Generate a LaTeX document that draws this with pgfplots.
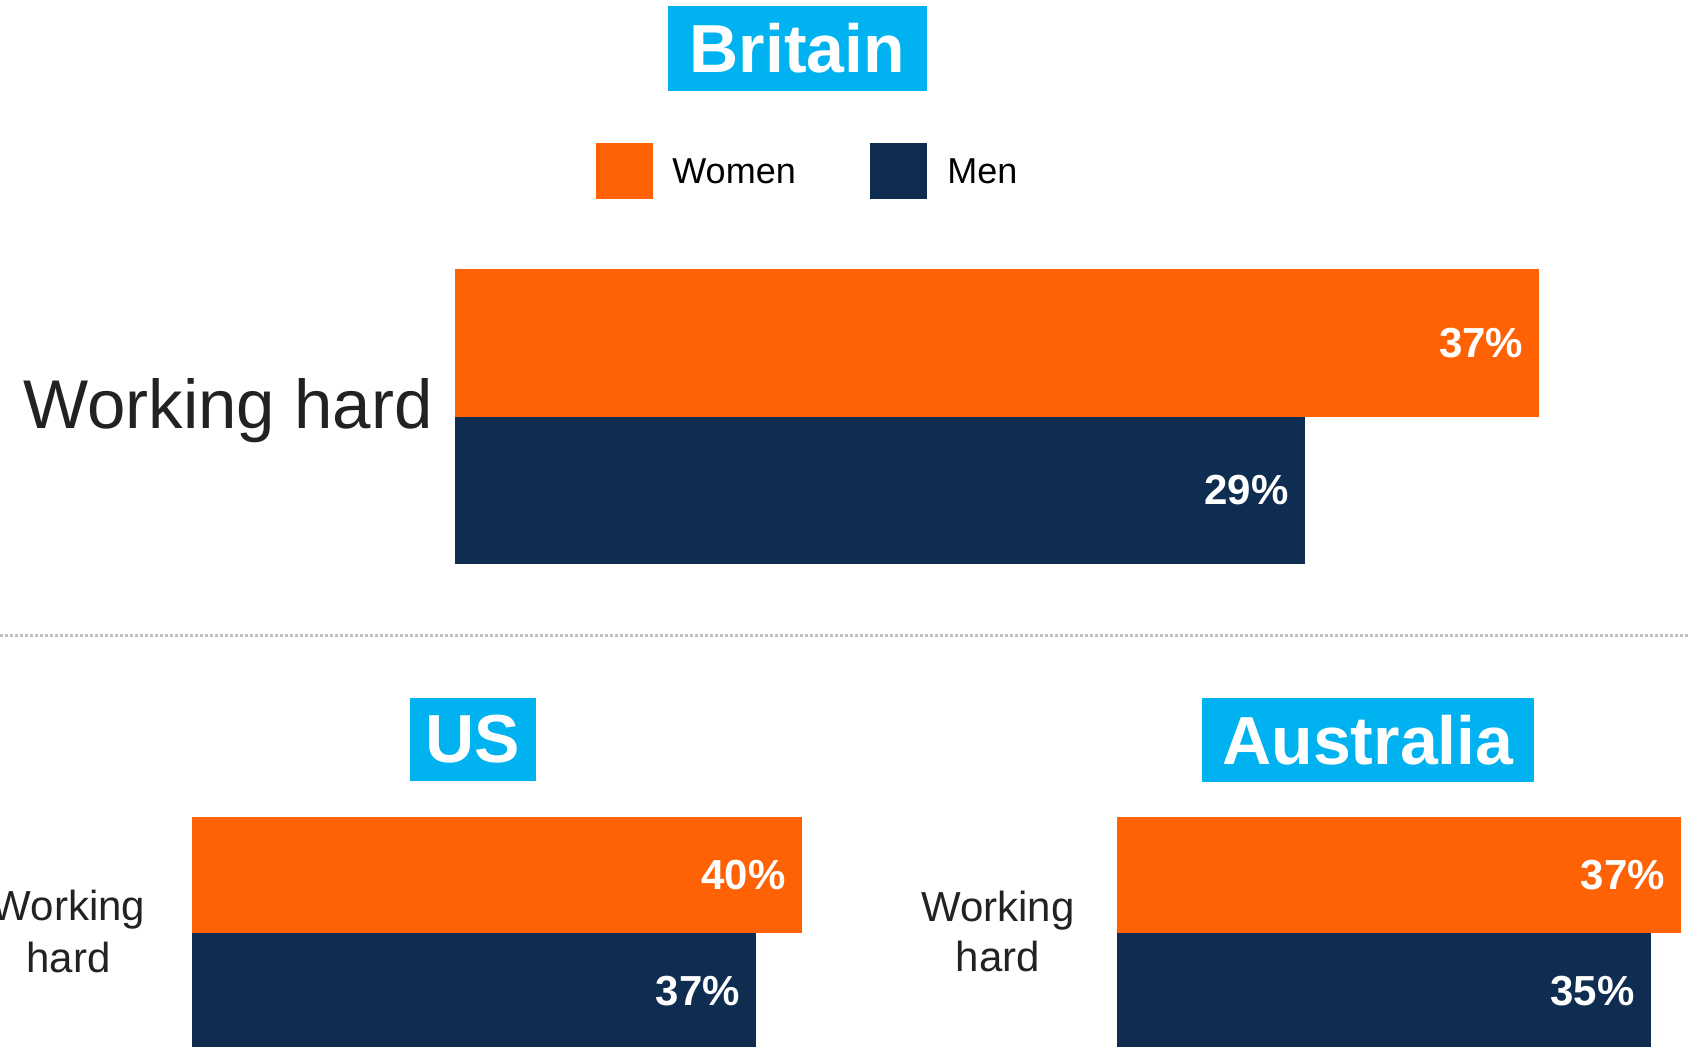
\documentclass[border=0pt]{standalone}
\usepackage{fontspec}
\setmainfont{Liberation Sans}
\usepackage{pgfplots}
\pgfplotsset{compat=1.18}
\definecolor{wOrange}{HTML}{FF6105}
\definecolor{mNavy}{HTML}{0E2D50}
\definecolor{tCyan}{HTML}{00B2EF}
\definecolor{sepGrey}{HTML}{BFBFBF}
\definecolor{lblText}{HTML}{222222}

\pgfplotsset{
  hbars/.style={
    xbar, bar width=1, bar shift=0pt,
    scale only axis, hide axis, clip=false,
    xmin=0, xmax=40, ymin=-0.5, ymax=1.5,
    anchor=south west,
    /pgf/number format/assume math mode=true,
    nodes near coords={\pgfmathprintnumber{\pgfplotspointmeta}\%},
    every node near coord/.append style={anchor=east, xshift=-8pt, inner sep=0pt,
      text=white, font=\fontsize{21}{25}\selectfont\bfseries},
  },
}

\begin{document}
\begin{tikzpicture}[x=1pt,y=1pt]
\clip (0,0) rectangle (845,523);

% country titles
\node[fill=tCyan, text=white, font=\fontsize{34}{40}\selectfont\bfseries,
  minimum width=129.5pt, minimum height=42.5pt, inner sep=0pt] at (398.75,498.75) {Britain};
\node[fill=tCyan, text=white, font=\fontsize{34}{40}\selectfont\bfseries,
  minimum width=63pt, minimum height=41.5pt, inner sep=0pt] at (236.5,153.25) {US};
\node[fill=tCyan, text=white, font=\fontsize{34}{40}\selectfont\bfseries,
  minimum width=166pt, minimum height=42pt, inner sep=0pt] at (684,153) {Australia};

% legend
\fill[wOrange] (298,423.5) rectangle (326.5,451.5);
\fill[mNavy] (435,423.5) rectangle (463.5,451.5);
\node[anchor=west, inner sep=0pt, font=\fontsize{18}{22}\selectfont] at (336,437.5) {Women};
\node[anchor=west, inner sep=0pt, font=\fontsize{18}{22}\selectfont] at (473.5,437.5) {Men};

% separator
\draw[sepGrey, line width=1.5pt, dash pattern=on 1.5pt off 1pt] (0,205.5) -- (845,205.5);

% category labels
\node[anchor=base east, inner sep=0pt, text=lblText, font=\fontsize{34.5}{40}\selectfont] at (216.5,309) {Working hard};
\node[anchor=base, inner sep=0pt, text=lblText, font=\fontsize{21}{25}\selectfont] at (34.25,62.75) {Working};
\node[anchor=base, inner sep=0pt, text=lblText, font=\fontsize{21}{25}\selectfont] at (34.25,37) {hard};
\node[anchor=base, inner sep=0pt, text=lblText, font=\fontsize{21}{25}\selectfont] at (499,62.5) {Working};
\node[anchor=base, inner sep=0pt, text=lblText, font=\fontsize{21}{25}\selectfont] at (499,37.5) {hard};

% Britain
\begin{axis}[hbars, at={(227.5pt,241pt)}, width=586.2pt, height=147.5pt]
\addplot[fill=wOrange, draw=none] coordinates {(37,1)};
\addplot[fill=mNavy, draw=none] coordinates {(29,0)};
\end{axis}

% US
\begin{axis}[hbars, at={(96pt,-1.5pt)}, width=305pt, height=116pt]
\addplot[fill=wOrange, draw=none] coordinates {(40,1)};
\addplot[fill=mNavy, draw=none] coordinates {(37,0)};
\end{axis}

% Australia
\begin{axis}[hbars, at={(558.5pt,-1.5pt)}, width=305pt, height=116pt]
\addplot[fill=wOrange, draw=none] coordinates {(37,1)};
\addplot[fill=mNavy, draw=none] coordinates {(35,0)};
\end{axis}
\end{tikzpicture}
\end{document}
